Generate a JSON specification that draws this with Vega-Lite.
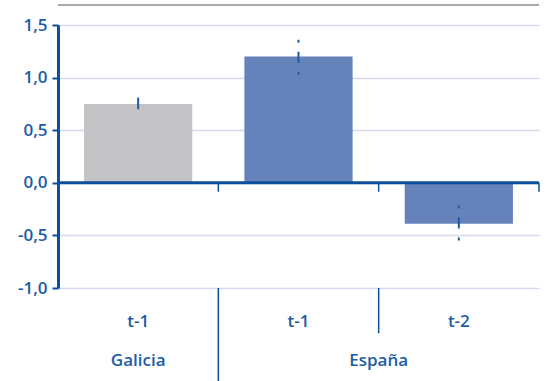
{
  "$schema": "https://vega.github.io/schema/vega-lite/v6.json",
  "width": 481,
  "height": 263,
  "autosize": {"type": "none"},
  "padding": {"left": 58, "top": 25, "right": 10, "bottom": 93},
  "background": "white",
  "config": {"view": {"stroke": null}, "font": "Open Sans"},
  "data": {
    "values": [
      {"cat": "Galicia t-1", "region": "Galicia", "value": 0.75, "lo": 0.70, "hi": 0.81},
      {"cat": "España t-1", "region": "España", "value": 1.2, "lo": 1.025, "hi": 1.36},
      {"cat": "España t-2", "region": "España", "value": -0.39, "lo": -0.555, "hi": -0.215}
    ]
  },
  "layer": [
    {
      "transform": [{"filter": "datum.cat === 'España t-2'"}],
      "mark": {"type": "rule", "color": "#8c8c8c", "strokeWidth": 1.5},
      "encoding": {
        "y": {"datum": 1.69, "type": "quantitative", "scale": {"domain": [-1, 1.5], "nice": false, "zero": false}}
      }
    },
    {
      "mark": {"type": "bar"},
      "encoding": {
        "x": {
          "field": "cat", "type": "nominal", "sort": null,
          "scale": {"paddingInner": 0.325, "paddingOuter": 0.1625},
          "axis": {
            "title": null, "domain": false, "ticks": false, "grid": false,
            "labelExpr": "split(datum.label, ' ')[1]",
            "labelFont": "Open Sans", "labelFontSize": 17, "labelFontWeight": 600, "labelColor": "#1c5ca6",
            "labelPadding": 25, "labelAngle": 0
          }
        },
        "y": {
          "field": "value", "type": "quantitative",
          "scale": {"domain": [-1, 1.5], "nice": false, "zero": false},
          "axis": {
            "title": null, "values": [-1, -0.5, 0, 0.5, 1, 1.5],
            "labelExpr": "replace(replace(format(datum.value, '.1f'), '.', ','), '−', '-')",
            "labelFont": "Open Sans", "labelFontSize": 17, "labelFontWeight": 600, "labelColor": "#1c5ca6",
            "labelPadding": 5,
            "domainColor": "#0b4f9c", "domainWidth": 3,
            "tickColor": "#0b4f9c", "tickWidth": 2, "tickSize": 6,
            "grid": true, "gridColor": "#d7daec", "gridWidth": 1.5
          }
        },
        "color": {
          "field": "region", "type": "nominal",
          "scale": {"domain": ["Galicia", "España"], "range": ["#c3c3c5", "#6682ba"]},
          "legend": null
        }
      }
    },
    {
      "mark": {"type": "rule", "color": "#1f5aa6", "strokeWidth": 2},
      "encoding": {
        "x": {"field": "cat", "type": "nominal", "sort": null},
        "y": {"field": "hi", "type": "quantitative", "scale": {"domain": [-1, 1.5], "nice": false, "zero": false}},
        "y2": {"field": "lo"},
        "strokeDash": {
          "field": "region", "type": "nominal",
          "scale": {"domain": ["Galicia", "España"], "range": [[1, 0], [3, 9, 11, 9, 3]]},
          "legend": null
        }
      }
    },
    {
      "transform": [{"filter": "datum.cat === 'España t-2'"}],
      "mark": {"type": "rule", "color": "#0b4f9c", "strokeWidth": 3},
      "encoding": {
        "y": {"datum": 0, "type": "quantitative", "scale": {"domain": [-1, 1.5], "nice": false, "zero": false}}
      }
    },
    {
      "transform": [{"filter": "datum.region === 'España'"}],
      "mark": {"type": "rule", "color": "#0b4f9c", "strokeWidth": 1.5},
      "encoding": {
        "x": {"field": "cat", "type": "nominal", "sort": null, "bandPosition": -0.2407},
        "y": {"datum": 0, "type": "quantitative", "scale": {"domain": [-1, 1.5], "nice": false, "zero": false}},
        "y2": {"datum": -0.085}
      }
    },
    {
      "transform": [{"filter": "datum.cat === 'España t-2'"}],
      "mark": {"type": "rule", "color": "#0b4f9c", "strokeWidth": 1.5},
      "encoding": {
        "x": {"field": "cat", "type": "nominal", "sort": null, "bandPosition": 1.2407},
        "y": {"datum": 0, "type": "quantitative", "scale": {"domain": [-1, 1.5], "nice": false, "zero": false}},
        "y2": {"datum": -0.085}
      }
    },
    {
      "transform": [{"filter": "datum.cat === 'España t-1'"}],
      "mark": {"type": "rule", "color": "#0b4f9c", "strokeWidth": 1.5},
      "encoding": {
        "x": {"field": "cat", "type": "nominal", "sort": null, "bandPosition": -0.2407},
        "y": {"datum": -1, "type": "quantitative", "scale": {"domain": [-1, 1.5], "nice": false, "zero": false}},
        "y2": {"datum": -1.9}
      }
    },
    {
      "transform": [{"filter": "datum.cat === 'España t-2'"}],
      "mark": {"type": "rule", "color": "#0b4f9c", "strokeWidth": 1.5},
      "encoding": {
        "x": {"field": "cat", "type": "nominal", "sort": null, "bandPosition": -0.2407},
        "y": {"datum": -1, "type": "quantitative", "scale": {"domain": [-1, 1.5], "nice": false, "zero": false}},
        "y2": {"datum": -1.43}
      }
    },
    {
      "transform": [{"filter": "datum.cat === 'Galicia t-1'"}],
      "mark": {"type": "text", "font": "Open Sans", "fontSize": 17, "fontWeight": 600, "color": "#1c5ca6", "baseline": "middle", "align": "center"},
      "encoding": {
        "x": {"field": "cat", "type": "nominal", "sort": null, "bandPosition": 0.5},
        "y": {"datum": -1.694, "type": "quantitative", "scale": {"domain": [-1, 1.5], "nice": false, "zero": false}},
        "text": {"field": "region"}
      }
    },
    {
      "transform": [{"filter": "datum.cat === 'España t-2'"}],
      "mark": {"type": "text", "font": "Open Sans", "fontSize": 17, "fontWeight": 600, "color": "#1c5ca6", "baseline": "middle", "align": "center"},
      "encoding": {
        "x": {"field": "cat", "type": "nominal", "sort": null, "bandPosition": -0.2407},
        "y": {"datum": -1.694, "type": "quantitative", "scale": {"domain": [-1, 1.5], "nice": false, "zero": false}},
        "text": {"field": "region"}
      }
    }
  ]
}
